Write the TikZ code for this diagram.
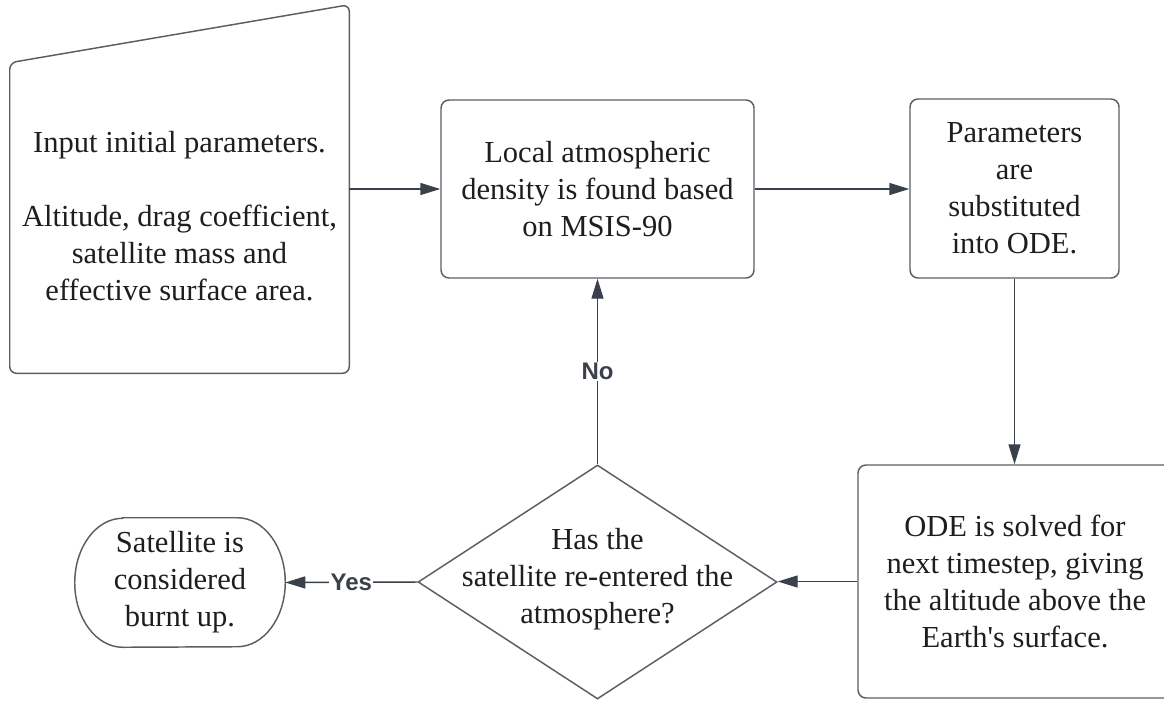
\documentclass[tikz,border=0pt]{standalone}
\usepackage{fontspec}
\setmainfont{Liberation Serif}
\newfontfamily\lblfont{Liberation Sans}
\usetikzlibrary{arrows.meta,shapes.geometric}
\definecolor{edgecol}{HTML}{5A5F66}
\definecolor{arrcol}{HTML}{3A414A}
\definecolor{txtcol}{HTML}{1E1E1E}
\begin{document}
\begin{tikzpicture}[x=0.75pt,y=-0.75pt,
  boxtext/.style={font=\fontsize{22.9}{27.75}\selectfont, text=txtcol, align=center, inner sep=0pt},
  procbox/.style={draw=edgecol, line width=1.1pt, rounded corners=6pt, rectangle, inner sep=0pt, boxtext},
  outline/.style={draw=edgecol, line width=1.1pt},
  flow/.style={draw=arrcol, line width=1.1pt, -{Triangle[length=15pt,width=9pt]}},
  lbl/.style={font=\lblfont\bfseries\fontsize{18}{20}\selectfont, text=arrcol, fill=white, inner sep=1pt}]
\useasboundingbox (0,0) rectangle (1164,700);
\clip (0,0) rectangle (1164,700);
\fill[white] (0,0) rectangle (1164,700);

% manual input shape
\node[minimum width=254.25pt, minimum height=276pt, inner sep=0pt] (inp) at (179.5,189) {};
\draw[outline, rounded corners=5pt] (inp.south west) -- ([yshift=-43.5pt]inp.north west) -- (inp.north east) -- (inp.south east) -- cycle;
\node[boxtext] (inptext) at (179.5,216.5) {Input initial parameters.\\[27.75pt]Altitude, drag coefficient,\\satellite mass and\\effective surface area.};

% process boxes
\node[procbox, minimum width=234.75pt, minimum height=133.5pt] (dens) at (597.5,189) {Local atmospheric\\density is found based\\on MSIS-90};
\node[procbox, minimum width=156.75pt, minimum height=134.25pt] (ode) at (1014.5,188.5) {Parameters\\are\\substituted\\into ODE.};
\node[procbox, minimum width=235.5pt, minimum height=174.75pt] (solve) at (1015,581.5) {ODE is solved for\\next timestep, giving\\the altitude above the\\Earth\textquotesingle s surface.};

% decision
\node[outline, shape=diamond, minimum width=269.25pt, minimum height=175.5pt, inner sep=0pt] (dec) at (597.5,582) {};
\node[boxtext] (dectext) at (597.5,579) {Has the\\satellite re-entered the\\atmosphere?};

% terminal
\node[boxtext, minimum width=157.5pt, minimum height=96.75pt] (term) at (180,582.5) {Satellite is\\considered\\burnt up.};
\draw[outline] ([xshift=36pt]term.north west) -- ([xshift=-36pt]term.north east)
  arc[start angle=90, end angle=-90, x radius=36pt, y radius=48.375pt]
  -- ([xshift=36pt]term.south west)
  arc[start angle=270, end angle=90, x radius=36pt, y radius=48.375pt] -- cycle;

% connectors
\draw[flow] (inp.east) -- (dens.west);
\draw[flow] (dens.east) -- (dens.east -| ode.west);
\draw[flow] (ode.south) -- (ode.south |- solve.north);
\draw[flow] (solve.west) -- (solve.west -| dec.east);
\draw[flow] (dec.north) -- node[lbl] {No} (dec.north |- dens.south);
\draw[flow] (dec.west) -- node[lbl] {Yes} (term.east);
\end{tikzpicture}
\end{document}
